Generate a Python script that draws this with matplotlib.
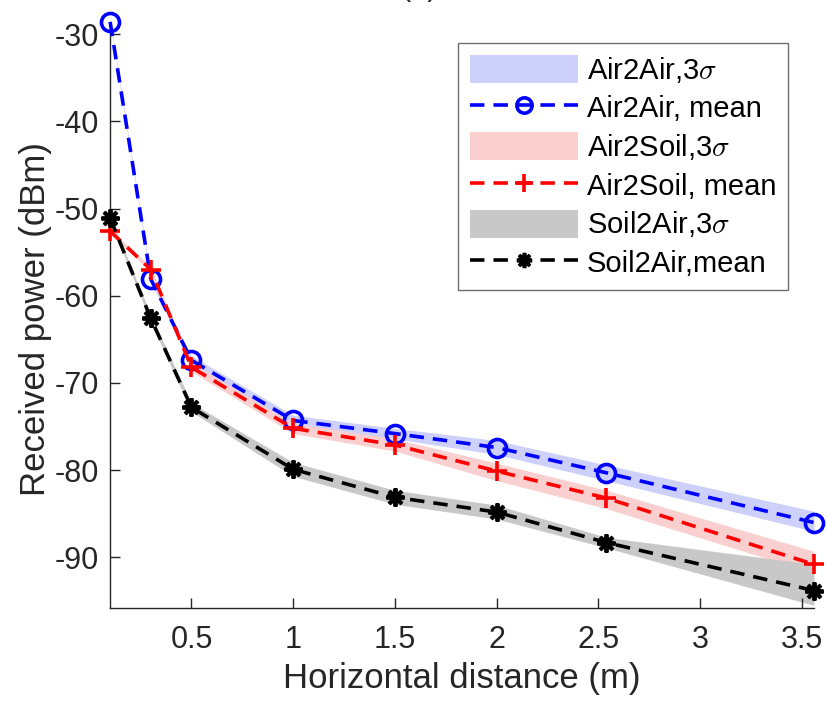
import numpy as np
import matplotlib.pyplot as plt
from matplotlib.patches import Patch
from matplotlib.lines import Line2D

plt.rcParams['font.family'] = ['Liberation Sans', 'DejaVu Sans']
plt.rcParams['mathtext.fontset'] = 'cm'
plt.rcParams['axes.unicode_minus'] = False

# horizontal distance (m)
dist = [0.1, 0.3, 0.5, 1.0, 1.5, 2.0, 2.54, 3.56]

# mean received power (dBm)
a2a_mean = [-28.6, -58.1, -67.4, -74.3, -75.8, -77.4, -80.3, -86.0]
a2s_mean = [-52.6, -57.0, -68.2, -75.2, -77.1, -80.1, -83.2, -90.8]
s2a_mean = [-51.1, -62.6, -72.8, -79.9, -83.1, -84.8, -88.3, -93.8]

# 3 sigma band limits
a2a_hi = [-28.4, -57.8, -66.9, -73.7, -75.2, -76.6, -79.4, -84.7]
a2a_lo = [-28.8, -58.4, -67.9, -74.9, -76.4, -78.2, -81.2, -87.0]
a2s_hi = [-52.4, -56.7, -67.7, -74.6, -76.4, -79.2, -82.3, -89.3]
a2s_lo = [-52.8, -57.3, -68.7, -75.8, -77.8, -81.2, -84.4, -91.8]
s2a_hi = [-50.8, -62.2, -72.3, -79.1, -82.3, -84.0, -87.7, -90.8]
s2a_lo = [-51.4, -63.0, -73.3, -80.7, -83.9, -85.6, -88.9, -95.5]

fig = plt.figure(figsize=(8.28, 7.07), dpi=100)
ax = fig.add_axes([0.133, 0.140, 0.850, 0.818])

band_cols = ['#ccd0fb', '#f9cfcf', '#c8c8c8']
line_cols = ['#0000ff', '#ff0000', '#000000']

ax.fill_between(dist, a2a_lo, a2a_hi, color=band_cols[0], lw=0)
ax.fill_between(dist, a2s_lo, a2s_hi, color=band_cols[1], lw=0)
ax.fill_between(dist, s2a_lo, s2a_hi, color=band_cols[2], lw=0)

ax.plot(dist, a2a_mean, '--', color=line_cols[0], lw=2.6, dashes=(4, 2.5),
        marker='o', ms=13, mfc='none', mew=2.6, clip_on=False, zorder=5)
ax.plot(dist, a2s_mean, '--', color=line_cols[1], lw=2.6, dashes=(4, 2.5),
        marker='+', ms=15, mew=2.6, clip_on=False, zorder=5)
ax.plot(dist, s2a_mean, '--', color=line_cols[2], lw=2.6, dashes=(4, 2.5),
        marker=(8, 2, 0), ms=13, mew=2.8, clip_on=False, zorder=5)

ax.set_xlim(0.1, 3.56)
ax.set_ylim(-95.8, -29.5)
ax.set_xticks([0.5, 1, 1.5, 2, 2.5, 3, 3.5])
ax.set_xticklabels(['0.5', '1', '1.5', '2', '2.5', '3', '3.5'])
ax.set_yticks([-90, -80, -70, -60, -50, -40, -30])

for s in ['top', 'right']:
    ax.spines[s].set_visible(False)
for s in ['left', 'bottom']:
    ax.spines[s].set_color('#262626')
    ax.spines[s].set_linewidth(1.0)
ax.tick_params(direction='in', length=7, width=1.0, color='#262626',
               labelsize=22, labelcolor='#262626')
ax.tick_params(axis='x', pad=12)
ax.tick_params(axis='y', pad=8)

ax.set_xlabel('Horizontal distance (m)', fontsize=25, color='#262626', labelpad=5)
ax.set_ylabel('Received power (dBm)', fontsize=25, color='#262626', labelpad=2)

handles = [
    Patch(facecolor=band_cols[0], edgecolor='none'),
    Line2D([], [], color=line_cols[0], ls='--', lw=2.6, dashes=(4, 2.5),
           marker='o', ms=11, mfc='none', mew=2.6),
    Patch(facecolor=band_cols[1], edgecolor='none'),
    Line2D([], [], color=line_cols[1], ls='--', lw=2.6, dashes=(4, 2.5),
           marker='+', ms=13, mew=2.6),
    Patch(facecolor=band_cols[2], edgecolor='none'),
    Line2D([], [], color=line_cols[2], ls='--', lw=2.6, dashes=(4, 2.5),
           marker=(8, 2, 0), ms=11, mew=2.6),
]
labels = ['Air2Air,3$\\sigma$', 'Air2Air, mean', 'Air2Soil,3$\\sigma$',
          'Air2Soil, mean', 'Soil2Air,3$\\sigma$', 'Soil2Air,mean']
leg = ax.legend(handles, labels, loc='upper right', bbox_to_anchor=(0.963, 0.977),
                fontsize=21, handlelength=3.7, handleheight=1.1, labelspacing=0.3,
                handletextpad=0.3, borderpad=0.4, borderaxespad=0.0,
                fancybox=False, framealpha=1)
leg.get_frame().set_edgecolor('#6e6e6e')
leg.get_frame().set_linewidth(1.0)

fig.text(0.506, 1.018, '(a)', fontsize=22, ha='center', va='center', color='#262626')

fig.savefig('out.png', dpi=100)
